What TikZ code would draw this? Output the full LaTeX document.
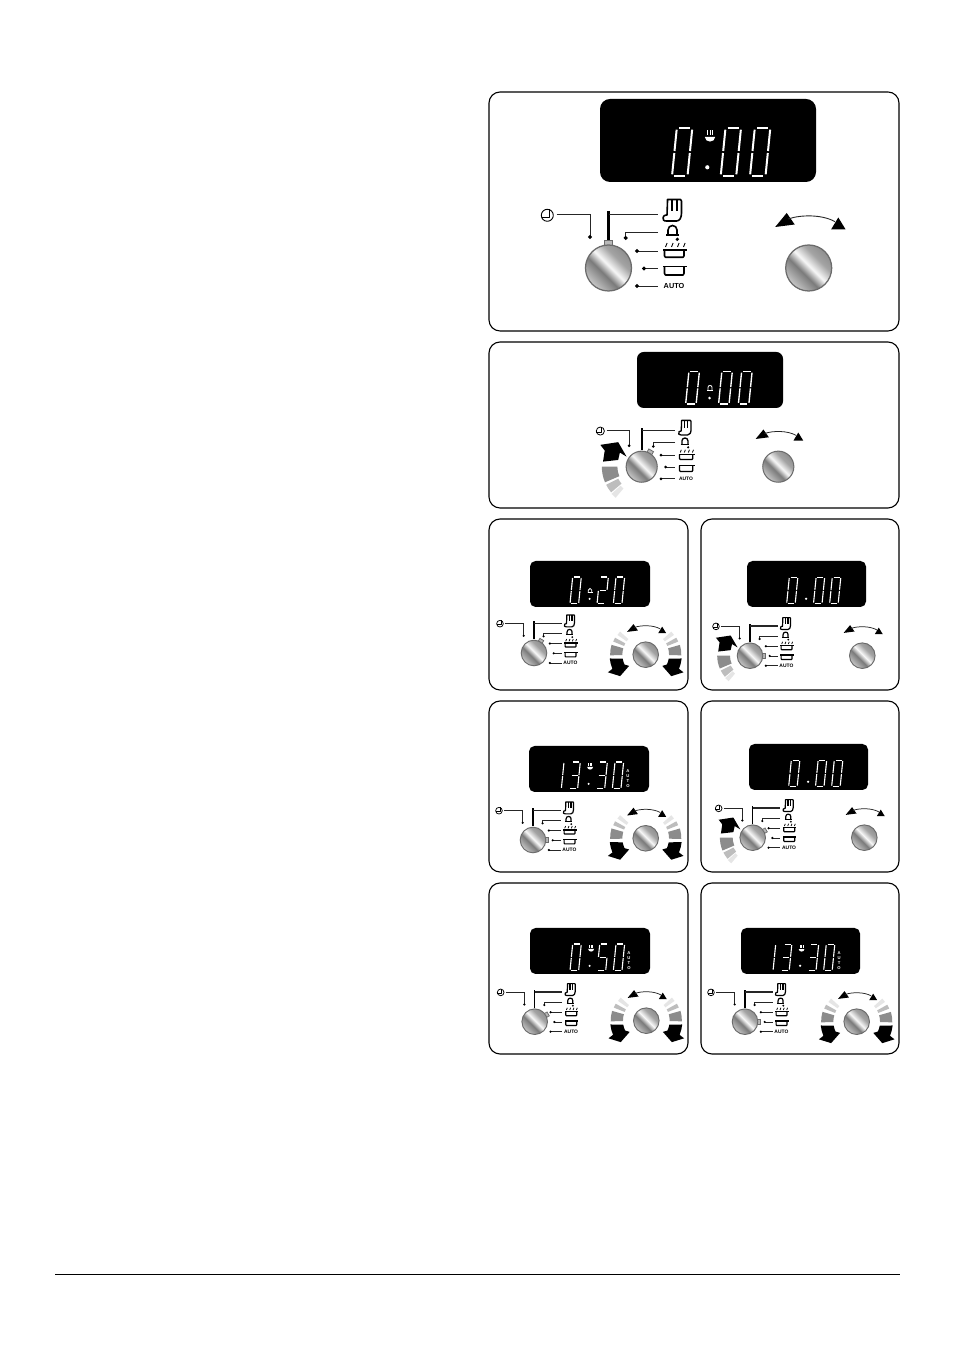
\documentclass[tikz,border=0pt]{standalone}
\usepackage{fontspec}
\setmainfont{Liberation Sans}
\usetikzlibrary{calc}
\pgfdeclareverticalshading{knobmetal}{100bp}{
  color(0bp)=(black!22);
  color(25bp)=(black!22);
  color(42bp)=(black!52);
  color(52bp)=(black!3);
  color(64bp)=(black!36);
  color(75bp)=(black!44);
  color(100bp)=(black!44)}
\definecolor{fadeA}{gray}{0.90}
\definecolor{fadeB}{gray}{0.74}
\definecolor{fadeC}{gray}{0.55}
\tikzset{
  panelframe/.style={draw=black,line width=1.1pt,fill=white,rounded corners=11pt},
  dispframe/.style={fill=black},
  segline/.style={draw=white,line width=\seglw pt},
  leader/.style={draw=black!85,line width=\thn pt},
  stem/.style={draw=black,line width=\thk pt},
  iconline/.style={draw=black,line width=\icn pt,line join=round},
  autolabel/.style={font=\bfseries\fontsize{\afs}{8}\selectfont,inner sep=0pt,transform shape},
  dispauto/.style={font=\bfseries\fontsize{7.6}{8.9}\selectfont,text=white,inner sep=0pt,align=center,transform shape}
}
\newcommand\sga{\draw[segline] (2.2,48)--(13.3,48);}
\newcommand\sgb{\draw[segline] (15.5,46.3)--(15.5,25);}
\newcommand\sgc{\draw[segline] (15.5,23)--(15.5,1.7);}
\newcommand\sgd{\draw[segline] (2.2,0)--(13.3,0);}
\newcommand\sge{\draw[segline] (0,23)--(0,1.7);}
\newcommand\sgf{\draw[segline] (0,46.3)--(0,25);}
\newcommand\sgg{\draw[segline] (2.2,24)--(13.3,24);}
\newcommand\dOh{\sga\sgb\sgc\sgd\sge\sgf}
\newcommand\dOne{\sgb\sgc}
\newcommand\dTwo{\sga\sgb\sgg\sge\sgd}
\newcommand\dThree{\sga\sgb\sgg\sgc\sgd}
\newcommand\dFive{\sga\sgf\sgg\sgc\sgd}
\newcommand\sevendigit[2]{\begin{scope}[shift={(#1,-35.5)},xslant=0.1]#2\end{scope}}
\newcommand\slotA{-65.3}
\newcommand\slotB{-36}
\newcommand\slotC{12.7}
\newcommand\slotD{42}
\newcommand\dotcolon{\fill[white] (-0.7,-26.8) circle (2.1);}
\newcommand\steamicon{%
  \fill[white] (-3.2,3.6) -- (7.2,3.6) .. controls (7,-2.6) and (-3,-2.6) .. (-3.2,3.6) -- cycle;
  \foreach \k in {-0.7,2,4.7}{\draw[white,line width=\thn pt] (\k,5.5)--(\k,10);}
  \dotcolon}
\newcommand\bellicon{%
  \draw[white,line width=\thn pt] (-3,-16) -- (-3,-11) arc[start angle=180,end angle=0,radius=3] -- (3,-16);
  \draw[white,line width=\thn pt] (-4.5,-16) -- (4.5,-16);
  \dotcolon}
\newcommand\displayauto[1]{\node[dispauto] (#1) at (70,-17) {A\\U\\T\\O};}
\newcommand\dispbox[5]{%
  \pgfmathsetmacro\s{(#3-#1)/216}\pgfmathsetmacro\rc{10*\s}%
  \pgfmathsetmacro\seglw{max(1.1,2.0*\s)}\pgfmathsetmacro\thn{0.6+0.35*\s}%
  \fill[dispframe,rounded corners=\rc pt] (#1,1350-#2) rectangle (#3,1350-#4);
  \begin{scope}[shift={({(#1+#3)/2},{1350-(#2+#4)/2})},scale=\s,transform shape]#5\end{scope}}
\newcommand\panelbox[4]{\draw[panelframe] (#1,1350-#2) rectangle (#3,1350-#4);}
\newcommand\knobface{%
  \shade[shading=knobmetal,shading angle=-45] (0,0) circle (23);
  \draw[draw=black!58,line width=\thk pt*0.6] (0,0) circle (23);}
\newcommand\ldot[2]{\fill[black] (#1-2.2,#2) -- (#1,#2+2.2) -- (#1+2.2,#2) -- (#1,#2-2.2) -- cycle;}
\newcommand\leftcluster[5][]{%
  \pgfmathsetmacro\scl{#4}\pgfmathsetmacro\thn{0.55+0.35*\scl}\pgfmathsetmacro\thk{0.9+1.2*\scl}\pgfmathsetmacro\icn{0.7+0.9*\scl}%
  \pgfmathsetmacro\afs{\scl<0.6 ? 8.9 : 7.3}%
  \begin{scope}[shift={(#2,1350-#3)},scale=\scl,transform shape]
    #1
    \draw[iconline,line width=\thn pt] (-61.2,52.7) circle (6);
    \draw[iconline,line width=\thn pt] (-59.2,58.7) -- (-59.2,50.7) -- (-67,50.7);
    \draw[leader] (-52,53.5) -- (-18.5,53.5) -- (-18.5,31); \ldot{-18.5}{31}
    \draw[stem] (0,57) -- (0,25);
    \draw[leader,line width=\icn pt] (0,53.5) -- (49.5,53.5);
    \draw[iconline] (55,48) .. controls (54,51) and (55,53) .. (58.5,53) -- (59,67) -- (59,68.5) -- (72,68.5) -- (73,67) -- (73,55) .. controls (73,50) and (71,47) .. (68,47) -- (58,47) .. controls (56.5,47) and (55.5,47) .. (55,48) -- cycle;
    \foreach \k in {63.6,68.2}{\draw[iconline] (\k,68.5) -- (\k,57);}
    \draw[leader] (49.5,35.3) -- (17.2,35.3) -- (17.2,30); \ldot{17.2}{30}
    \draw[iconline] (59.5,33) -- (59.5,38) arc[start angle=180,end angle=0,radius=4.5] -- (68.5,33);
    \draw[iconline] (57.5,33) -- (70.5,33);
    \fill[black] (68.8,28.7) circle (1.8);
    \draw[leader] (28.5,17) -- (49.5,17); \ldot{28.5}{17}
    \foreach \k in {57,63,69,75}{\draw[iconline,line width=\thn pt] (\k,21) -- (\k+1.6,25);}
    \draw[iconline] (54.5,18) -- (78.5,18);
    \draw[iconline] (56,18) -- (56,12) -- (57,10.7) -- (74.5,10.7) -- (75.5,12) -- (75.5,18);
    \draw[leader] (35.5,-0.5) -- (49.5,-0.5); \ldot{35.5}{-0.5}
    \draw[iconline] (54.5,1.3) -- (78.5,1.3);
    \draw[iconline] (56,1.3) -- (56,-5.5) -- (57,-7) -- (74.5,-7) -- (75.5,-5.5) -- (75.5,1.3);
    \draw[leader] (28.5,-18) -- (49.5,-18); \ldot{28.5}{-18}
    \node[autolabel] (auto) at (65.5,-18) {AUTO};
    \begin{scope}[rotate=-#5]
      \draw[fill=black!28,draw=black!58,line width=\thn pt] (-4,21) rectangle (4,28);
    \end{scope}
    \knobface
  \end{scope}}
\newcommand\swing{%
  \fill[black] (-33.5,41) -- (-22,55) -- (-14,43.5) -- cycle;
  \fill[black] (29.6,50.5) -- (36.8,38.7) -- (22.5,38.7) -- cycle;
  \draw[leader] (-20.4,49) .. controls (-8,53.5) and (14,53.5) .. (26.3,46.3);}
\newcommand\annseg[5]{\fill[#5] (#1:#3) arc[start angle=#1,end angle=#2,radius=#3] -- (#2:#4) arc[start angle=#2,end angle=#1,radius=#4] -- cycle;}
\newcommand\bigdown{%
  \annseg{138}{145}{42}{62}{fadeA}
  \annseg{151}{158}{42}{63}{fadeB}
  \annseg{164}{181}{42}{64}{fadeC}
  \fill[black] (186:65) arc[start angle=186,end angle=203,radius=65] -- (205:75) -- (220:60) -- (214:36) -- (205:42) arc[start angle=205,end angle=190,radius=42] -- cycle;}
\newcommand\bigup{%
  \annseg{222}{230}{42}{60}{fadeA}
  \annseg{207}{220}{39}{59}{fadeB}
  \annseg{180}{203}{36}{59}{fadeC}
  \fill[black] (-57.2,7.5) -- (-54.7,23.9) -- (-61.2,32.3) -- (-34.8,36.3) -- (-22.4,14.9) -- (-32.3,20.9) -- (-34.8,10) -- cycle;}
\newcommand\rightknob[4][]{%
  \pgfmathsetmacro\scl{#4}\pgfmathsetmacro\thn{0.55+0.35*\scl}\pgfmathsetmacro\thk{0.9+1.2*\scl}%
  \begin{scope}[shift={(#2,1350-#3)},scale=\scl,transform shape]
    #1
    \swing
    \knobface
  \end{scope}}
\newcommand\bothdown{\bigdown\begin{scope}[xscale=-1]\bigdown\end{scope}}
\begin{document}
\begin{tikzpicture}[x=1pt,y=1pt]
\useasboundingbox (0,0) rectangle (954,1350);
\fill[white] (0,0) rectangle (954,1350);
\begin{scope}[name prefix=pa-]
\panelbox{489}{92}{899}{331}
\dispbox{600}{99}{816}{182}{\sevendigit{\slotB}{\dOh}\sevendigit{\slotC}{\dOh}\sevendigit{\slotD}{\dOh}\steamicon}
\leftcluster{608.5}{268}{1}{0}
\rightknob{808.7}{268}{1}
\end{scope}
\begin{scope}[name prefix=pb-]
\panelbox{489}{342}{899}{508}
\dispbox{637}{352}{783}{408}{\sevendigit{\slotB}{\dOh}\sevendigit{\slotC}{\dOh}\sevendigit{\slotD}{\dOh}\bellicon}
\leftcluster[\bigup]{641.7}{466.7}{0.676}{30}
\rightknob{778.3}{466.7}{0.676}
\end{scope}
\begin{scope}[name prefix=pc-]
\panelbox{489}{519}{688}{690}
\dispbox{530}{561}{650}{607}{\sevendigit{\slotB}{\dOh}\sevendigit{\slotC}{\dTwo}\sevendigit{\slotD}{\dOh}\bellicon}
\leftcluster{534}{653}{0.556}{30}
\rightknob[\bothdown]{645.7}{654.7}{0.556}
\end{scope}
\begin{scope}[name prefix=pd-]
\panelbox{701}{519}{899}{690}
\dispbox{747}{561}{866}{607}{\sevendigit{\slotB}{\dOh}\sevendigit{\slotC}{\dOh}\sevendigit{\slotD}{\dOh}\dotcolon}
\leftcluster[\bigup]{750}{655.7}{0.556}{90}
\rightknob{862.3}{655.7}{0.556}
\end{scope}
\begin{scope}[name prefix=pe-]
\panelbox{489}{701}{688}{872}
\dispbox{529}{746}{649}{792}{\sevendigit{\slotA}{\dOne}\sevendigit{\slotB}{\dThree}\sevendigit{\slotC}{\dThree}\sevendigit{\slotD}{\dOh}\steamicon\displayauto{disp}}
\leftcluster{533}{840}{0.556}{90}
\rightknob[\bothdown]{645.7}{838.3}{0.556}
\end{scope}
\begin{scope}[name prefix=pf-]
\panelbox{701}{701}{899}{872}
\dispbox{749}{744}{868}{790}{\sevendigit{\slotB}{\dOh}\sevendigit{\slotC}{\dOh}\sevendigit{\slotD}{\dOh}\dotcolon}
\leftcluster[\bigup]{752.7}{837.7}{0.556}{60}
\rightknob{864.3}{837.7}{0.556}
\end{scope}
\begin{scope}[name prefix=pg-]
\panelbox{489}{883}{688}{1054}
\dispbox{530}{928}{650}{974}{\sevendigit{\slotB}{\dOh}\sevendigit{\slotC}{\dFive}\sevendigit{\slotD}{\dOh}\steamicon\displayauto{disp}}
\leftcluster{534.7}{1021.7}{0.556}{60}
\rightknob[\bothdown]{646.3}{1020.7}{0.556}
\end{scope}
\begin{scope}[name prefix=ph-]
\panelbox{701}{883}{899}{1054}
\dispbox{741}{928}{860}{974}{\sevendigit{\slotA}{\dOne}\sevendigit{\slotB}{\dThree}\sevendigit{\slotC}{\dThree}\sevendigit{\slotD}{\dOh}\steamicon\displayauto{disp}}
\leftcluster{745}{1021.7}{0.556}{90}
\rightknob[\bothdown]{856.7}{1021.7}{0.556}
\end{scope}
\coordinate (ruleL) at (55,1350-1274.5);
\coordinate (ruleR) at (900,1350-1274.5);
\draw[black,line width=0.9pt] (ruleL) -- (ruleR);
\end{tikzpicture}
\end{document}
